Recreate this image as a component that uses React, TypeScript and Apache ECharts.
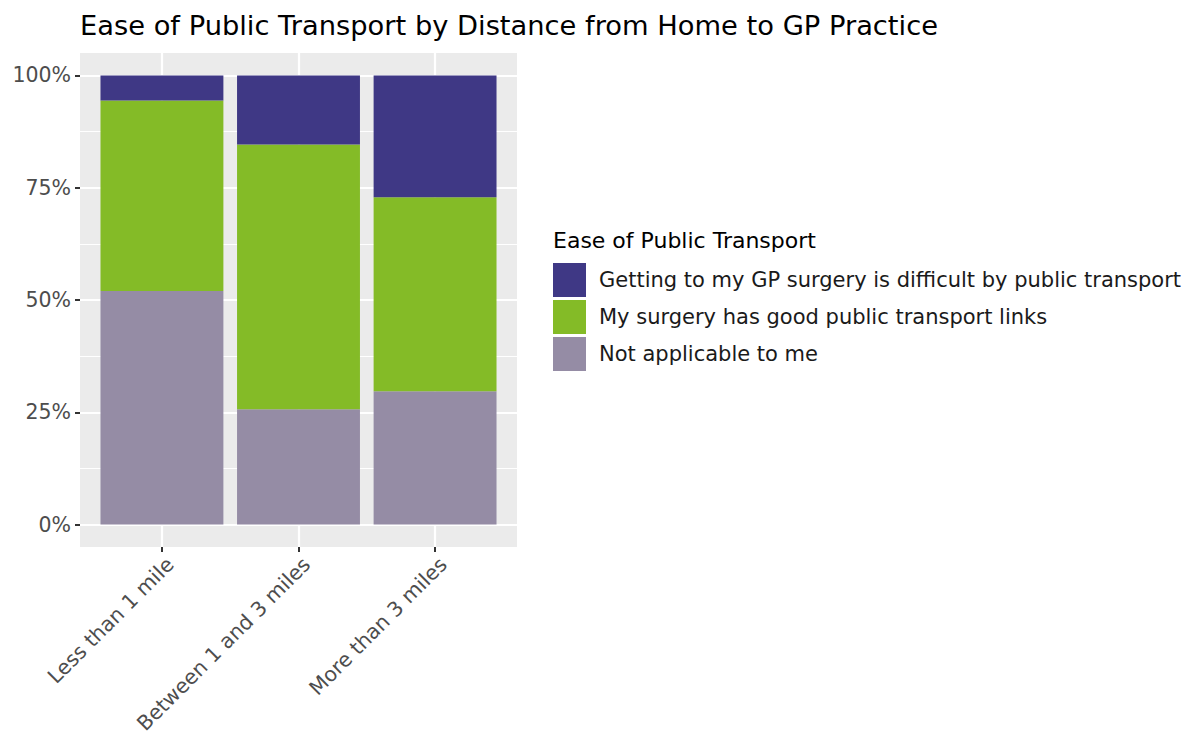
import React, { useEffect, useRef } from "react";
import * as echarts from "echarts";

const chartTitle = "Ease of Public Transport by Distance from Home to GP Practice";
const legendTitle = "Ease of Public Transport";
const categories = ["Less than 1 mile", "Between 1 and 3 miles", "More than 3 miles"];
const seriesNames = [
  "Getting to my GP surgery is difficult by public transport",
  "My surgery has good public transport links",
  "Not applicable to me",
];
const difficult = [5.6, 15.4, 27.1];
const goodLinks = [42.4, 58.9, 43.2];
const notApplicable = [52.0, 25.7, 29.7];
const yTicks = [0, 25, 50, 75, 100];
const yMinorTicks = [12.5, 37.5, 62.5, 87.5];
const xTicks = [0, 1, 2];

const COLORS = ["#3F3885", "#84BB27", "#958CA5"];
const FONT = "DejaVu Sans";

export default function App() {
  const ref = useRef<HTMLDivElement>(null);
  useEffect(() => {
    document.body.style.margin = "0";
    const chart = echarts.init(ref.current!, null, { renderer: "svg" });
    const panel = { left: 80, top: 53, width: 437, height: 494 };
    const band = panel.width / 3.2;
    chart.setOption({
      animation: false,
      title: [
        {
          text: chartTitle,
          left: 80,
          top: 12,
          padding: 0,
          textStyle: { fontSize: 27.3, fontWeight: "normal", color: "#000", fontFamily: FONT },
        },
        {
          text: legendTitle,
          left: 553,
          top: 229,
          padding: 0,
          textStyle: { fontSize: 22, fontWeight: "normal", color: "#000", fontFamily: FONT },
        },
      ],
      legend: {
        orient: "vertical",
        left: 553,
        top: 263,
        padding: 0,
        itemWidth: 33,
        itemHeight: 34,
        itemGap: 3,
        icon: "rect",
        selectedMode: false,
        data: [seriesNames[0], seriesNames[1], seriesNames[2]],
        textStyle: { fontSize: 21, color: "#1A1A1A", fontFamily: FONT, padding: [0, 0, 0, 8] },
      },
      grid: [
        {
          left: panel.left,
          top: panel.top,
          width: panel.width,
          height: panel.height,
          show: true,
          backgroundColor: "#EBEBEB",
          borderWidth: 0,
        },
        {
          left: panel.left + band * 0.1,
          top: panel.top,
          width: band * 3,
          height: panel.height,
          show: false,
        },
      ],
      xAxis: [
        {
          type: "value",
          gridIndex: 0,
          min: -0.6,
          max: 2.6,
          axisLine: { show: false, onZero: false },
          axisTick: { show: true, customValues: xTicks, length: 5, lineStyle: { color: "#333333", width: 2 } },
          axisLabel: {
            customValues: xTicks.map((v) => v + 0.06),
            formatter: (v: number) => categories[Math.round(v)],
            rotate: 45,
            margin: 14,
            fontSize: 20.5,
            color: "#4D4D4D",
            fontFamily: FONT,
          },
          splitLine: { show: true, lineStyle: { color: "#FFFFFF", width: 2.2 } },
        },
        {
          type: "category",
          gridIndex: 1,
          data: categories,
          show: false,
        },
      ],
      yAxis: [
        {
          type: "value",
          gridIndex: 0,
          min: -5,
          max: 105,
          axisLine: { show: false, onZero: false },
          axisTick: { show: true, customValues: yTicks, length: 5, lineStyle: { color: "#333333", width: 2 } },
          axisLabel: {
            customValues: yTicks,
            formatter: (v: number) => v + "%",
            margin: 9,
            fontSize: 20.5,
            color: "#4D4D4D",
            fontFamily: FONT,
          },
          splitLine: { show: true, lineStyle: { color: "#FFFFFF", width: 2.2 } },
        },
        {
          type: "value",
          gridIndex: 0,
          min: -5,
          max: 105,
          position: "left",
          axisLine: { show: false, onZero: false },
          axisTick: { show: false, customValues: yMinorTicks },
          axisLabel: { show: false },
          splitLine: { show: true, lineStyle: { color: "#FFFFFF", width: 1.1 } },
        },
        {
          type: "value",
          gridIndex: 1,
          min: -5,
          max: 105,
          show: false,
        },
      ],
      series: [
        { name: seriesNames[2], type: "bar", xAxisIndex: 1, yAxisIndex: 2, stack: "total", barWidth: "90%", data: notApplicable, itemStyle: { color: COLORS[2] } },
        { name: seriesNames[1], type: "bar", xAxisIndex: 1, yAxisIndex: 2, stack: "total", barWidth: "90%", data: goodLinks, itemStyle: { color: COLORS[1] } },
        { name: seriesNames[0], type: "bar", xAxisIndex: 1, yAxisIndex: 2, stack: "total", barWidth: "90%", data: difficult, itemStyle: { color: COLORS[0] } },
      ],
    });
    return () => chart.dispose();
  }, []);
  return <div ref={ref} style={{ width: 1190, height: 738 }} />;
}
